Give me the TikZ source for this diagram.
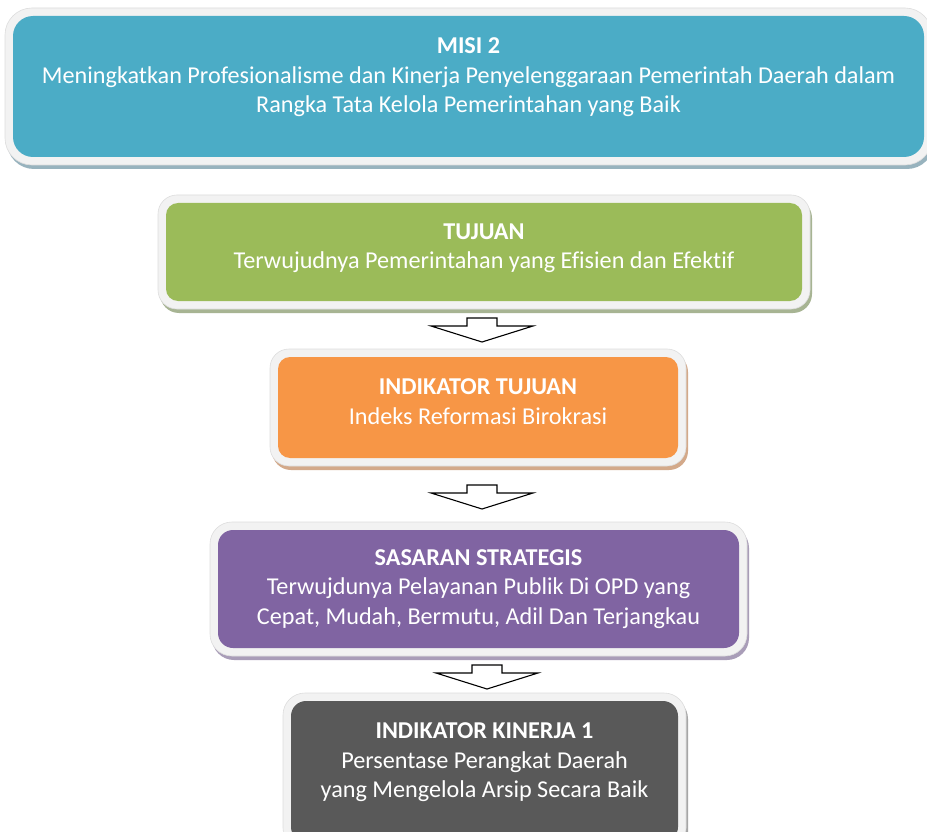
\documentclass[tikz,border=0pt]{standalone}
\usepackage{fontspec}
\setmainfont[Ligatures={NoCommon}]{Carlito}
\usetikzlibrary{fit}
\definecolor{cteal}{HTML}{4BACC6}
\definecolor{cgreen}{HTML}{9BBB59}
\definecolor{corange}{HTML}{F79646}
\definecolor{cpurple}{HTML}{8064A2}
\definecolor{cgray}{HTML}{595959}
\definecolor{steal}{HTML}{98B3BE}
\definecolor{sgreen}{HTML}{A7B493}
\definecolor{sorange}{HTML}{D3A98A}
\definecolor{spurple}{HTML}{A99DB8}
\definecolor{sgray}{HTML}{A6A6A6}
\definecolor{framefill}{HTML}{F2F2F2}
\definecolor{framedraw}{HTML}{DDDDDD}
\tikzset{
  txt/.style={text=white, align=center, inner sep=0pt, font=\fontsize{24.2}{29.5}\selectfont},
  blockarrow/.style={fill=white, draw=black, line width=1.1pt, line join=miter},
}
% name, x1, y1, x2, y2, fill, shadow, radius
\newcommand\flowbox[8]{%
  \pgfmathsetmacro\outr{#8+7}%
  \fill[#7, rounded corners=\outr pt] (#2-8+2,#3-8+4) rectangle (#4+8+2,#5+8+4);
  \filldraw[framefill, draw=framedraw, line width=0.6pt, rounded corners=\outr pt] (#2-8,#3-8) rectangle (#4+8,#5+8);
  \node[fit={(#2,#3) (#4,#5)}, inner sep=0pt, fill=#6, rounded corners=#8 pt] (#1) {};
}
% name, centre x, top y
\newcommand\downarrowshape[3]{%
  \coordinate (#1) at (#2,#3);
  \draw[blockarrow] ([xshift=-15pt]#1) -- ([xshift=15pt]#1) -- ([xshift=15pt,yshift=-8pt]#1)
     -- ([xshift=51pt,yshift=-8pt]#1) -- ([yshift=-24pt]#1) -- ([xshift=-51pt,yshift=-8pt]#1)
     -- ([xshift=-15pt,yshift=-8pt]#1) -- cycle;
}
\begin{document}
\begin{tikzpicture}[x=1pt,y=-1pt]
\useasboundingbox (0,0) rectangle (927,832);
\fill[white] (0,0) rectangle (927,832);

\flowbox{misi}{13}{16}{924}{157}{cteal}{steal}{20}
\flowbox{tujuan}{166}{203}{802}{301}{cgreen}{sgreen}{12}
\flowbox{indtuj}{278}{357}{678}{458}{corange}{sorange}{12}
\flowbox{sasaran}{218}{530}{739}{648}{cpurple}{spurple}{15}
\flowbox{kinerja}{291}{701}{678}{842}{cgray}{sgray}{15}

\node[txt] (misiT) at ([yshift=9pt]misi.center) {\textbf{MISI 2}\\Meningkatkan Profesionalisme dan Kinerja Penyelenggaraan Pemerintah Daerah dalam\\Rangka Tata Kelola Pemerintahan yang Baik};
\node[txt] (tujuanT) at ([yshift=4pt]tujuan.center) {\textbf{TUJUAN}\\Terwujudnya Pemerintahan yang Efisien dan Efektif};
\node[txt] (indtujT) at ([yshift=6pt]indtuj.center) {\textbf{INDIKATOR TUJUAN}\\Indeks Reformasi Birokrasi};
\node[txt] (sasaranT) at (sasaran.center) {\textbf{SASARAN STRATEGIS}\\Terwujdunya Pelayanan Publik Di OPD yang\\Cepat, Mudah, Bermutu, Adil Dan Terjangkau};
\node[txt] (kinerjaT) at ([yshift=9pt]kinerja.center) {\textbf{INDIKATOR KINERJA 1}\\Persentase Perangkat Daerah\\yang Mengelola Arsip Secara Baik};

\downarrowshape{a1}{482}{318}
\downarrowshape{a2}{482}{485}
\downarrowshape{a3}{487}{665}
\end{tikzpicture}
\end{document}
